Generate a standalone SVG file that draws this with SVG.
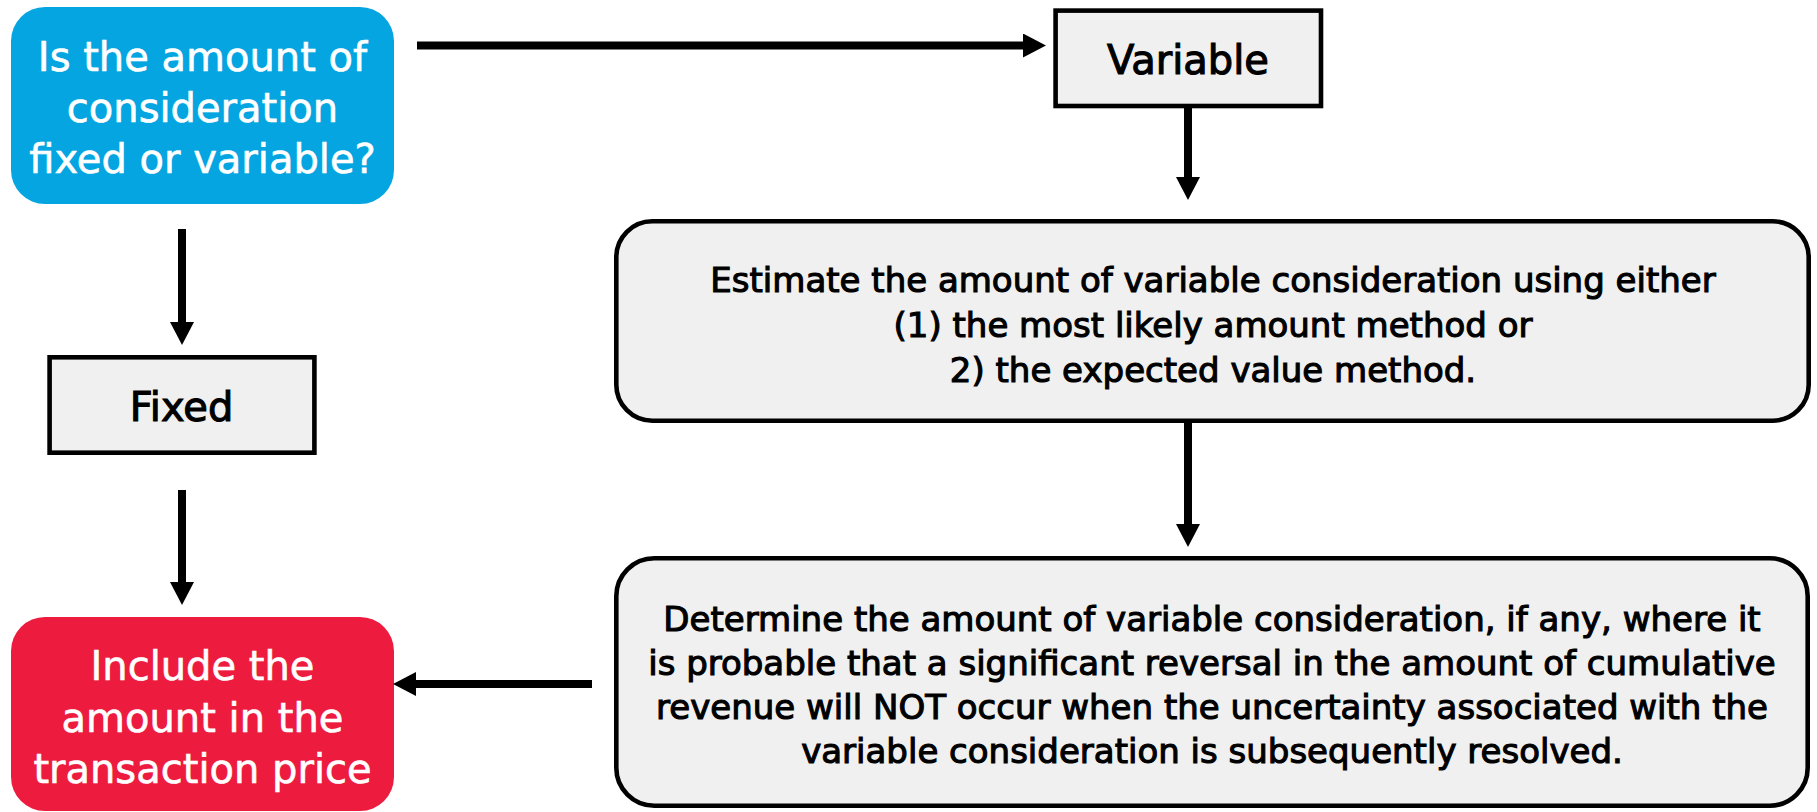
<svg xmlns="http://www.w3.org/2000/svg" width="1817" height="812" viewBox="0 0 1817 812">
  <style>
    .txt { font-family: "DejaVu Sans", Verdana, sans-serif; text-anchor: middle; }
    .big { font-size: 40px; }
    .small { font-size: 34px; }
    .white { fill: #fff; stroke: #fff; stroke-width: 0.6; }
    .dark { fill: #000; stroke: #000; stroke-width: 1.1; }
    .box { fill: #f0f0f0; stroke: #000; stroke-width: 4.6; }
    .conn { stroke: #000; stroke-width: 8; fill: none; }
  </style>
  <defs>
    <marker id="head" markerUnits="userSpaceOnUse" markerWidth="24" markerHeight="24" refX="3" refY="12" orient="auto">
      <path d="M0,0 L23,12 L0,24 z" fill="#000"/>
    </marker>
  </defs>

  <!-- question node -->
  <g id="node-question">
    <rect x="11" y="7" width="383" height="197" rx="34" ry="34" fill="#05a5e1"/>
    <text class="txt big white" x="202.5" y="71">Is the amount of</text>
    <text class="txt big white" x="202.5" y="122">consideration</text>
    <text class="txt big white" x="202.5" y="173">fixed or variable?</text>
  </g>

  <!-- variable node -->
  <g id="node-variable">
    <rect class="box" x="1055.6" y="10.6" width="265.4" height="95.4"/>
    <text class="txt big dark" x="1188" y="74">Variable</text>
  </g>

  <!-- fixed node -->
  <g id="node-fixed">
    <rect class="box" x="49.6" y="357.3" width="264.8" height="95.4"/>
    <text class="txt big dark" x="181.5" y="421">Fixed</text>
  </g>

  <!-- estimate node -->
  <g id="node-estimate">
    <rect class="box" x="616.3" y="221.3" width="1192.4" height="199.4" rx="36" ry="36"/>
    <text class="txt small dark" x="1213" y="292">Estimate the amount of variable consideration using either</text>
    <text class="txt small dark" x="1213" y="337">(1) the most likely amount method or</text>
    <text class="txt small dark" x="1213" y="382">2) the expected value method.</text>
  </g>

  <!-- constraint node -->
  <g id="node-constraint">
    <rect class="box" x="616.3" y="558.3" width="1191.4" height="247.4" rx="38" ry="38"/>
    <text class="txt small dark" x="1212" y="631">Determine the amount of variable consideration, if any, where it</text>
    <text class="txt small dark" x="1212" y="675">is probable that a significant reversal in the amount of cumulative</text>
    <text class="txt small dark" x="1212" y="719">revenue will NOT occur when the uncertainty associated with the</text>
    <text class="txt small dark" x="1212" y="763">variable consideration is subsequently resolved.</text>
  </g>

  <!-- result node -->
  <g id="node-include">
    <rect x="11" y="617" width="383" height="194" rx="34" ry="34" fill="#ed1c3f"/>
    <text class="txt big white" x="202.5" y="680">Include the</text>
    <text class="txt big white" x="202.5" y="731.5">amount in the</text>
    <text class="txt big white" x="202.5" y="782.5">transaction price</text>
  </g>

  <!-- connectors -->
  <g id="connectors">
    <line class="conn" x1="417" y1="45.5" x2="1026" y2="45.5" marker-end="url(#head)"/>
    <line class="conn" x1="1188" y1="108" x2="1188" y2="180" marker-end="url(#head)"/>
    <line class="conn" x1="1188" y1="423" x2="1188" y2="527" marker-end="url(#head)"/>
    <line class="conn" x1="182" y1="229" x2="182" y2="325" marker-end="url(#head)"/>
    <line class="conn" x1="182" y1="490" x2="182" y2="585" marker-end="url(#head)"/>
    <line class="conn" x1="592" y1="684" x2="413" y2="684" marker-end="url(#head)"/>
  </g>
</svg>
